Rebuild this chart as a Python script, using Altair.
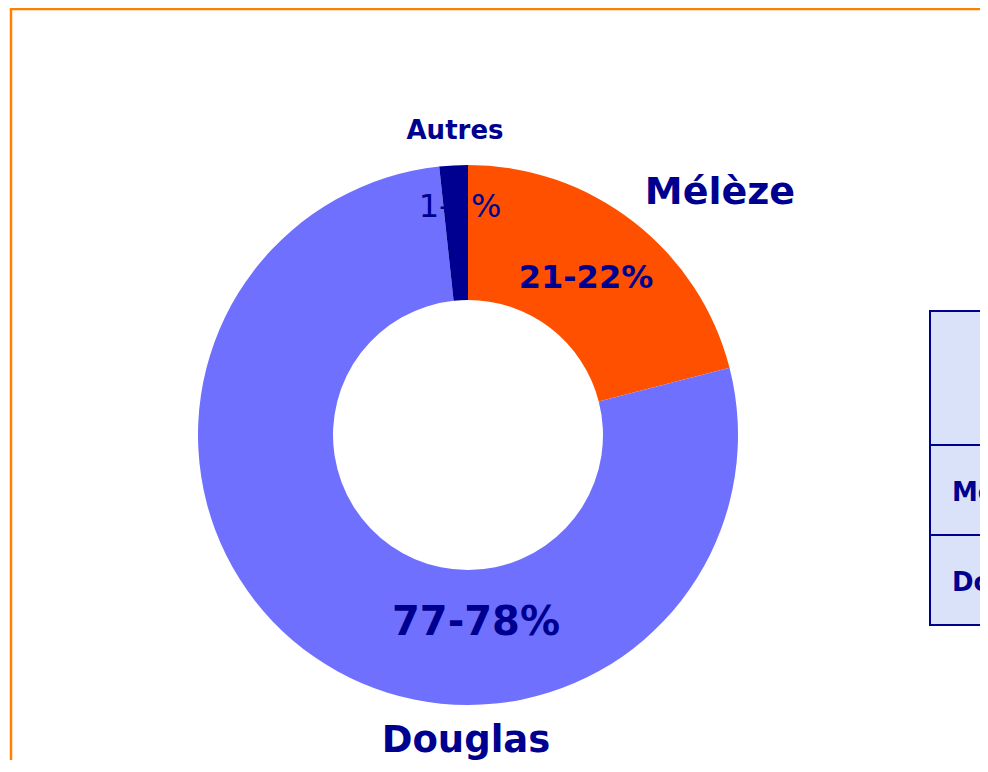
import altair as alt
import pandas as pd

species = ["Mélèze", "Douglas", "Autres"]
shares = [21.0, 77.3, 1.7]
colors = ["#FF5000", "#7070FF", "#000090"]

table_rows = ["Mélèze", "Douglas"]

NAVY = "#000090"
FONT = "DejaVu Sans"

df = pd.DataFrame({"species": species, "share": shares, "order": [0, 1, 2]})

CX, CY = 460, 427

donut = alt.Chart(df).mark_arc(outerRadius=270, innerRadius=135, stroke=None).encode(
    theta=alt.Theta("share:Q", stack=True),
    order=alt.Order("order:Q"),
    color=alt.Color("species:N", scale=alt.Scale(domain=species, range=colors), legend=None),
    x=alt.value(CX),
    y=alt.value(CY),
)

one = pd.DataFrame({"a": [0]})


def label(text, x, y, size, bold=True):
    return alt.Chart(one).mark_text(
        text=text, font=FONT, fontSize=size, fontWeight="bold" if bold else "normal",
        color=NAVY, align="center", baseline="middle",
    ).encode(x=alt.value(x), y=alt.value(y))


frame = alt.Chart(one).mark_rect(fill=None, stroke="#FF8000", strokeWidth=2.5).encode(
    x=alt.value(3), y=alt.value(1), x2=alt.value(1200), y2=alt.value(1200)
)

tbl_fill = "#DAE2FA"
TX = 922
table_box = alt.Chart(one).mark_rect(fill=tbl_fill, stroke=NAVY, strokeWidth=2).encode(
    x=alt.value(TX), y=alt.value(303), x2=alt.value(1200), y2=alt.value(617)
)
line1 = alt.Chart(one).mark_rule(color=NAVY, strokeWidth=2).encode(
    x=alt.value(TX), x2=alt.value(1200), y=alt.value(437)
)
line2 = alt.Chart(one).mark_rule(color=NAVY, strokeWidth=2).encode(
    x=alt.value(TX), x2=alt.value(1200), y=alt.value(527)
)
tbl_text = [
    alt.Chart(one).mark_text(text=t, font=FONT, fontSize=26, fontWeight="bold", color=NAVY,
                             align="left", baseline="middle").encode(x=alt.value(944), y=alt.value(y))
    for t, y in zip(table_rows, [485, 575])
]

chart = alt.layer(
    frame,
    donut,
    label("Autres", 447, 123, 26),
    label("Mélèze", 712, 185, 38),
    label("Douglas", 458, 733, 37),
    label("21-22%", 578, 270, 32),
    label("77-78%", 468, 615, 40),
    label("1-2%", 452, 199, 32, bold=False),
    table_box, line1, line2, *tbl_text,
).properties(
    width=972, height=752, padding=0, autosize=alt.AutoSizeParams(type="none")
).configure_view(stroke=None)

chart.save("out.html", embed_options={"renderer": "svg", "actions": False})
